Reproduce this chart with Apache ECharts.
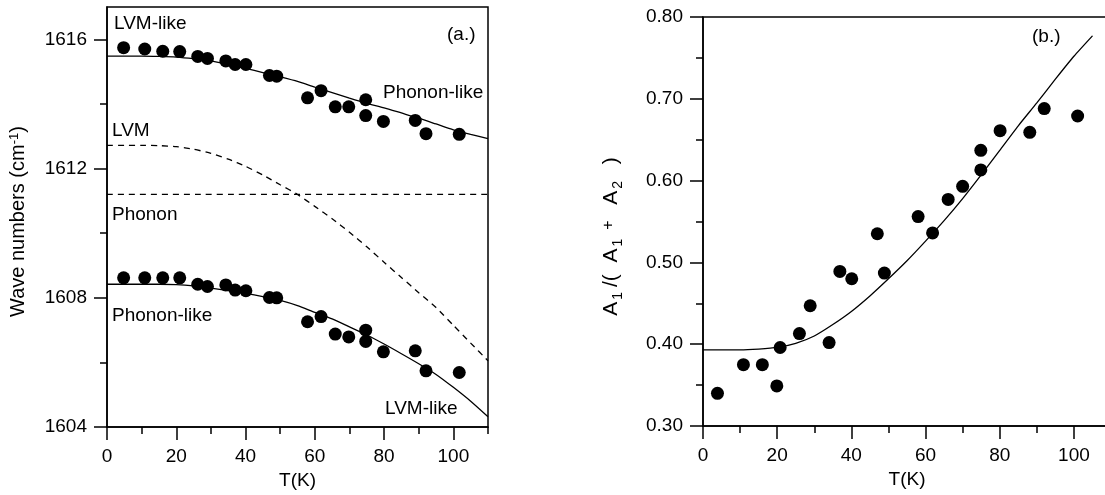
<!DOCTYPE html>
<html>
<head>
<meta charset="utf-8">
<script src="https://cdn.jsdelivr.net/npm/echarts@6/dist/echarts.min.js"></script>
<style>
  html, body { margin: 0; padding: 0; background: #fff; overflow: hidden; }
  #chart { width: 1112px; height: 495px; }
</style>
</head>
<body>
<div id="chart"></div>
<script>
// panel (a.): measured points, both branches share the temperatures
const tempA = [4.8, 10.9, 16.1, 21, 26.2, 29, 34.3, 37, 40.1, 46.9, 49, 57.9, 61.8, 65.9, 69.8, 74.7, 74.7, 79.8, 89, 92.1, 101.7];
const waveUpper = [1615.74, 1615.70, 1615.63, 1615.62, 1615.47, 1615.41, 1615.33, 1615.22, 1615.22, 1614.88, 1614.86, 1614.19, 1614.41, 1613.91, 1613.91, 1614.13, 1613.64, 1613.46, 1613.49, 1613.08, 1613.06];
const waveLower = [1608.62, 1608.62, 1608.62, 1608.62, 1608.42, 1608.35, 1608.40, 1608.24, 1608.22, 1608.01, 1608.00, 1607.26, 1607.42, 1606.88, 1606.79, 1607.00, 1606.65, 1606.33, 1606.36, 1605.74, 1605.69];

// panel (a.): fitted curves, read every 5 K
const fitTempA = [0, 5, 10, 15, 20, 25, 30, 35, 40, 45, 50, 55, 60, 65, 70, 75, 80, 85, 90, 95, 100, 105, 110];
const fitUpper = [1615.48, 1615.48, 1615.48, 1615.47, 1615.45, 1615.40, 1615.33, 1615.22, 1615.10, 1614.97, 1614.84, 1614.70, 1614.52, 1614.35, 1614.18, 1614.02, 1613.88, 1613.72, 1613.56, 1613.38, 1613.20, 1613.06, 1612.93];
const fitLower = [1608.42, 1608.42, 1608.42, 1608.42, 1608.41, 1608.37, 1608.30, 1608.22, 1608.14, 1608.04, 1607.92, 1607.76, 1607.55, 1607.35, 1607.10, 1606.85, 1606.57, 1606.27, 1605.96, 1605.63, 1605.23, 1604.80, 1604.32];
const lvmCurve = [1612.72, 1612.72, 1612.72, 1612.71, 1612.68, 1612.60, 1612.47, 1612.29, 1612.07, 1611.80, 1611.50, 1611.20, 1610.83, 1610.45, 1610.03, 1609.58, 1609.10, 1608.63, 1608.16, 1607.70, 1607.15, 1606.60, 1606.05];
const phononTemp = [0, 110];
const phononLine = [1611.2, 1611.2];

// panel (b.)
const tempB = [3.9, 10.9, 16.0, 19.9, 20.8, 26.0, 28.9, 34.0, 36.9, 40.1, 47.0, 48.9, 58.0, 61.9, 66.1, 70.0, 74.9, 74.9, 80.1, 88.1, 92.0, 101.0];
const ratioB = [0.340, 0.375, 0.375, 0.349, 0.396, 0.413, 0.447, 0.402, 0.489, 0.480, 0.535, 0.487, 0.556, 0.536, 0.577, 0.593, 0.637, 0.613, 0.661, 0.659, 0.688, 0.679];
const fitTempB = [0, 5, 10, 15, 20, 25, 30, 35, 40, 45, 50, 55, 60, 65, 70, 75, 80, 85, 90, 95, 100, 105];
const fitRatio = [0.393, 0.393, 0.393, 0.394, 0.396, 0.401, 0.410, 0.424, 0.440, 0.459, 0.480, 0.502, 0.526, 0.551, 0.578, 0.607, 0.637, 0.667, 0.695, 0.724, 0.752, 0.777];

// tick values
const xMajor = [0, 20, 40, 60, 80, 100];
const xMinor = [10, 30, 50, 70, 90, 110];
const waveMajor = [1604, 1608, 1612, 1616];
const waveMinor = [1606, 1610, 1614];
const ratioMajor = [0.3, 0.4, 0.5, 0.6, 0.7, 0.8];
const ratioMinor = [0.35, 0.45, 0.55, 0.65, 0.75];

const zip = (xs, ys) => xs.map((x, i) => [x, ys[i]]);

const FONT = "'Liberation Sans', Arial, sans-serif";
const FS = 19;
const black = '#000';
const axisLine = { show: true, lineStyle: { color: black, width: 1.5 } };

function majorAxis(base, ticks, fmt) {
  return Object.assign({
    type: 'value',
    axisLine: axisLine,
    splitLine: { show: false },
    axisTick: { show: true, length: 13, customValues: ticks, lineStyle: { color: black, width: 1.5 } },
    axisLabel: { customValues: ticks, margin: 20, color: black, fontSize: FS, fontFamily: FONT, formatter: fmt }
  }, base);
}
function minorAxis(base, ticks) {
  return Object.assign({
    type: 'value',
    axisLine: { show: false },
    splitLine: { show: false },
    axisTick: { show: true, length: 7, customValues: ticks, lineStyle: { color: black, width: 1.5 } },
    axisLabel: { show: false }
  }, base);
}

const nameStyle = { color: black, fontSize: FS, fontFamily: FONT };

const dot = { type: 'scatter', symbol: 'circle', symbolSize: 13, itemStyle: { color: black, opacity: 1 }, z: 3 };
const solid = { type: 'line', symbol: 'none', smooth: 0.2, lineStyle: { color: black, width: 1.3 }, z: 2 };
const dashed = { type: 'line', symbol: 'none', smooth: 0.2, lineStyle: { color: black, width: 1.3, type: [6, 5] }, z: 2 };

const chart = echarts.init(document.getElementById('chart'));
chart.setOption({
  animation: false,
  backgroundColor: '#fff',
  grid: [
    { left: 107, top: 7, width: 381, height: 427, show: true, borderColor: black, borderWidth: 1.5 },
    { left: 703, top: 17, width: 408, height: 409, show: true, borderColor: black, borderWidth: 1.5 }
  ],
  xAxis: [
    majorAxis({ gridIndex: 0, position: 'bottom', min: 0, max: 110, name: 'T(K)', nameLocation: 'middle', nameGap: 42, nameTextStyle: nameStyle }, xMajor),
    minorAxis({ gridIndex: 0, position: 'bottom', min: 0, max: 110 }, xMinor),
    majorAxis({ gridIndex: 1, position: 'bottom', min: 0, max: 110, name: 'T(K)', nameLocation: 'middle', nameGap: 44, nameTextStyle: nameStyle }, xMajor),
    minorAxis({ gridIndex: 1, position: 'bottom', min: 0, max: 110 }, xMinor)
  ],
  yAxis: [
    majorAxis({
      gridIndex: 0, position: 'left', min: 1604, max: 1617,
      name: 'Wave numbers (cm{sup|-1})', nameLocation: 'middle', nameGap: 79,
      nameTextStyle: Object.assign({}, nameStyle, {
        fontSize: 20, padding: [0, 9, 0, 0],
        rich: { sup: { fontSize: 13, fontFamily: FONT, color: black, verticalAlign: 'top' } }
      })
    }, waveMajor, v => String(v)),
    minorAxis({ gridIndex: 0, position: 'left', min: 1604, max: 1617 }, waveMinor),
    majorAxis({
      gridIndex: 1, position: 'left', min: 0.3, max: 0.8,
      name: '{a|A}{s|1}{a|/(  A}{s|1}{p|+}{a|  A}{s|2}{a|  )}', nameLocation: 'middle', nameGap: 78,
      nameTextStyle: Object.assign({}, nameStyle, {
        fontSize: 21, padding: [0, 30, 0, 0],
        rich: {
          a: { fontSize: 21, fontFamily: FONT, color: black, verticalAlign: 'bottom', padding: [0, 2, 3, 2] },
          s: { fontSize: 14, fontFamily: FONT, color: black, verticalAlign: 'bottom', padding: [0, 3, 0, 0] },
          p: { fontSize: 16, fontFamily: FONT, color: black, verticalAlign: 'top', padding: [0, 2, 0, 6] }
        }
      })
    }, ratioMajor, v => v.toFixed(2)),
    minorAxis({ gridIndex: 1, position: 'left', min: 0.3, max: 0.8 }, ratioMinor)
  ],
  series: [
    Object.assign({ xAxisIndex: 0, yAxisIndex: 0, data: zip(fitTempA, fitUpper) }, solid),
    Object.assign({ xAxisIndex: 0, yAxisIndex: 0, data: zip(fitTempA, fitLower) }, solid),
    Object.assign({ xAxisIndex: 0, yAxisIndex: 0, data: zip(fitTempA, lvmCurve) }, dashed),
    Object.assign({ xAxisIndex: 0, yAxisIndex: 0, data: zip(phononTemp, phononLine) }, dashed),
    Object.assign({ xAxisIndex: 0, yAxisIndex: 0, data: zip(tempA, waveUpper) }, dot),
    Object.assign({ xAxisIndex: 0, yAxisIndex: 0, data: zip(tempA, waveLower) }, dot),
    Object.assign({ xAxisIndex: 2, yAxisIndex: 2, data: zip(fitTempB, fitRatio) }, solid),
    Object.assign({ xAxisIndex: 2, yAxisIndex: 2, data: zip(tempB, ratioB) }, dot)
  ],
  graphic: [
    ['LVM-like', 114, 24],
    ['LVM', 112, 131],
    ['Phonon', 112, 215],
    ['Phonon-like', 112, 316],
    ['Phonon-like', 383, 93],
    ['LVM-like', 385, 409],
    ['(a.)', 447, 35],
    ['(b.)', 1032, 37]
  ].map(([t, x, y]) => ({
    type: 'text', x: x, y: y, z: 10,
    style: { text: t, fill: black, font: FS + 'px ' + FONT, textVerticalAlign: 'middle' }
  }))
});
</script>
</body>
</html>
